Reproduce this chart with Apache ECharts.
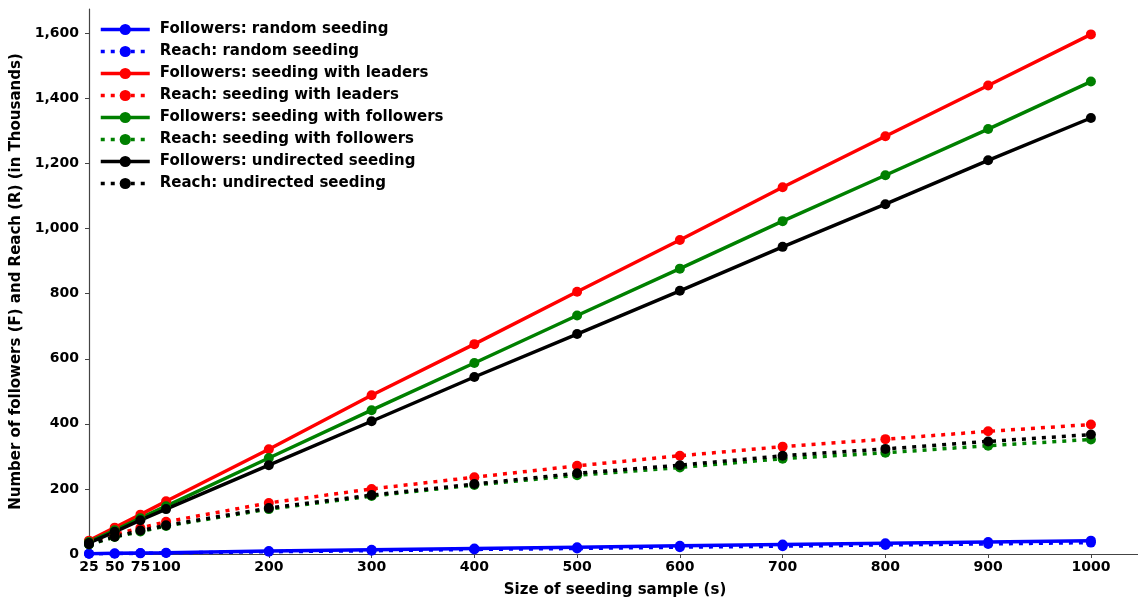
<!DOCTYPE html>
<html>
<head>
<meta charset="utf-8">
<script src="https://cdn.jsdelivr.net/npm/echarts@6/dist/echarts.min.js"></script>
<style>
  html, body { margin: 0; padding: 0; background: #fff; }
  #chart { width: 1138px; height: 601px; }
</style>
</head>
<body>
<div id="chart"></div>
<script>
// Seeding sample sizes (s)
const seeds = [25, 50, 75, 100, 200, 300, 400, 500, 600, 700, 800, 900, 1000];
const xTicks = [25, 50, 75, 100, 200, 300, 400, 500, 600, 700, 800, 900, 1000];
const yTicks = [0, 200, 400, 600, 800, 1000, 1200, 1400, 1600];

// Followers (F) and reach (R), in thousands
const followersRandom     = [1, 2, 3, 4, 9, 13, 17, 21, 25, 29, 33, 37, 41];
const reachRandom         = [1, 1, 2, 3, 7, 10, 14, 17, 21, 24, 28, 31, 35];
const followersLeaders    = [41, 81, 121, 162, 322, 488, 645, 806, 965, 1127, 1284, 1440, 1597];
const reachLeaders        = [38, 60, 80, 99, 157, 200, 236, 271, 302, 330, 353, 377, 398];
const followersFollowers  = [37, 73, 110, 147, 295, 442, 587, 733, 877, 1023, 1164, 1306, 1452];
const reachFollowers      = [29, 52, 69, 86, 138, 178, 212, 242, 266, 293, 311, 333, 352];
const followersUndirected = [34, 68, 104, 138, 273, 408, 544, 676, 809, 944, 1075, 1210, 1340];
const reachUndirected     = [30, 53, 72, 88, 141, 181, 215, 248, 273, 302, 323, 346, 367];

const FONT = 'DejaVu Sans';

function pairs(values) {
  return seeds.map((s, i) => [s, values[i]]);
}

function lineSeries(name, values, color, dotted) {
  return {
    name: name,
    type: 'line',
    data: pairs(values),
    symbol: 'circle',
    symbolSize: 10,
    showSymbol: true,
    itemStyle: { color: color },
    lineStyle: {
      color: color,
      width: 3.5,
      type: dotted ? [4, 6] : 'solid',
      cap: 'butt'
    },
    emphasis: { disabled: true }
  };
}

const series = [
  lineSeries('Followers: random seeding', followersRandom, '#0000ff', false),
  lineSeries('Reach: random seeding', reachRandom, '#0000ff', true),
  lineSeries('Followers: seeding with leaders', followersLeaders, '#ff0000', false),
  lineSeries('Reach: seeding with leaders', reachLeaders, '#ff0000', true),
  lineSeries('Followers: seeding with followers', followersFollowers, '#008000', false),
  lineSeries('Reach: seeding with followers', reachFollowers, '#008000', true),
  lineSeries('Followers: undirected seeding', followersUndirected, '#000000', false),
  lineSeries('Reach: undirected seeding', reachUndirected, '#000000', true)
];

const chart = echarts.init(document.getElementById('chart'), null, { renderer: 'canvas' });

chart.setOption({
  animation: false,
  backgroundColor: '#ffffff',
  textStyle: { fontFamily: FONT },
  grid: { left: 89, right: -3, top: 9, bottom: 47, containLabel: false, outerBoundsMode: 'none' },
  legend: {
    orient: 'vertical',
    left: 99,
    top: 22,
    padding: 0,
    itemWidth: 49,
    itemHeight: 14,
    itemGap: 7,
    selectedMode: false,
    lineStyle: { width: 3.5 },
    textStyle: {
      fontFamily: FONT,
      fontSize: 15,
      fontWeight: 'bold',
      color: '#000',
      padding: [0, 0, 0, 5]
    },
    data: series.map(s => s.name)
  },
  xAxis: {
    type: 'value',
    min: 25,
    max: 1048.75,
    name: 'Size of seeding sample (s)',
    nameLocation: 'middle',
    nameGap: 29,
    nameTextStyle: { fontFamily: FONT, fontSize: 15, fontWeight: 'bold', color: '#000' },
    axisLine: { show: true, onZero: false, lineStyle: { color: '#444', width: 1.2 } },
    axisTick: { show: true, inside: false, length: 4, customValues: xTicks, lineStyle: { color: '#444' } },
    axisLabel: {
      customValues: xTicks,
      margin: 6,
      fontFamily: FONT,
      fontSize: 14,
      fontWeight: 'bold',
      color: '#000',
      formatter: v => String(v)
    },
    splitLine: { show: false }
  },
  yAxis: {
    type: 'value',
    min: 0,
    max: 1675,
    name: 'Number of followers (F) and Reach (R) (in Thousands)',
    nameLocation: 'middle',
    nameGap: 57,
    nameTextStyle: { fontFamily: FONT, fontSize: 15, fontWeight: 'bold', color: '#000' },
    axisLine: { show: true, lineStyle: { color: '#444', width: 1.2 } },
    axisTick: { show: true, inside: false, length: 4, customValues: yTicks, lineStyle: { color: '#444' } },
    axisLabel: {
      customValues: yTicks,
      margin: 10,
      fontFamily: FONT,
      fontSize: 14,
      fontWeight: 'bold',
      color: '#000',
      formatter: v => v.toLocaleString('en-US')
    },
    splitLine: { show: false }
  },
  series: series
});
</script>
</body>
</html>
